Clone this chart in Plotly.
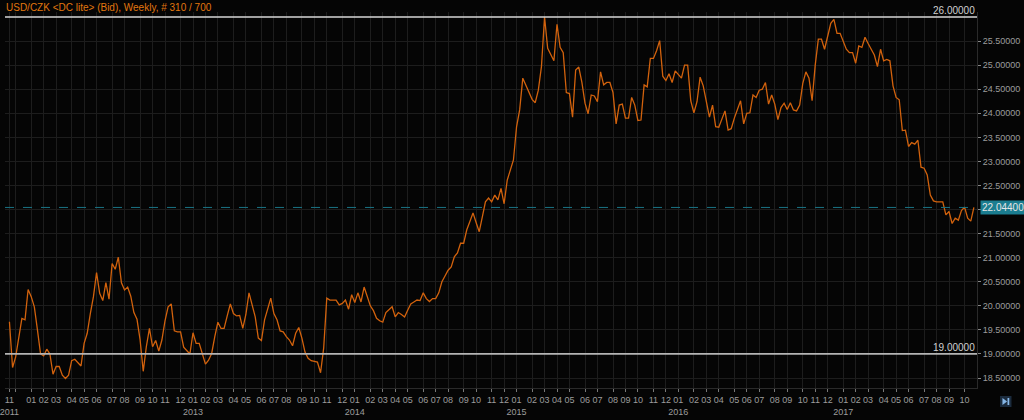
import pandas as pd
import plotly.graph_objects as go

title_text = "USD/CZK &lt;DC lite&gt; (Bid), Weekly, # 310 / 700"

close = [
    19.67, 18.72, 18.94, 19.36, 19.74, 19.71, 20.34, 20.19, 19.98, 19.50,
    19.00, 18.96, 19.10, 19.00, 18.58, 18.74, 18.74, 18.56, 18.49, 18.56,
    18.86, 18.89, 18.83, 18.75, 19.22, 19.43, 19.84, 20.19, 20.69, 20.26,
    20.11, 20.48, 20.14, 20.88, 20.76, 21.01, 20.48, 20.33, 20.39, 20.20,
    19.86, 19.72, 19.29, 18.64, 19.15, 19.53, 19.15, 19.28, 19.06, 19.29,
    19.69, 19.98, 20.04, 19.48, 19.46, 19.46, 19.14, 19.08, 19.00, 19.44,
    19.22, 19.22, 19.00, 18.79, 18.87, 19.01, 19.36, 19.66, 19.53, 19.53,
    19.79, 20.04, 19.84, 19.79, 19.80, 19.53, 19.82, 20.27,
    20.02, 19.77, 19.33, 19.28, 19.71, 19.95, 20.16, 19.84, 19.71, 19.48,
    19.46, 19.36, 19.29, 19.17, 19.43, 19.55, 19.33, 19.04, 18.91, 18.86,
    18.85, 18.83, 18.61, 19.12, 20.16, 20.12, 20.12, 20.12, 20.02, 20.05,
    20.12, 19.93, 20.23, 20.07, 20.27, 20.08, 20.39, 20.20, 20.00, 19.90,
    19.74, 19.69, 19.66, 19.86, 19.93, 19.98, 19.77, 19.86, 19.82, 19.77,
    19.91, 20.04, 20.08, 20.12, 20.11, 20.27, 20.15, 20.09, 20.15, 20.15,
    20.27, 20.50, 20.62, 20.74, 20.81, 21.02, 21.10, 21.30, 21.30, 21.58,
    21.75, 21.93, 21.73, 21.54, 21.85, 22.16, 22.24,
    22.16, 22.30, 22.20, 22.44, 22.12, 22.61, 22.82, 23.03, 23.72, 24.07,
    24.73, 24.59, 24.45, 24.29, 24.22, 24.48, 24.97, 26.00, 25.35, 25.21,
    25.09, 25.85, 25.37, 25.26, 24.43, 24.41, 23.92, 24.90, 24.96, 24.64,
    24.21, 23.99, 24.38, 24.36, 24.24, 24.86, 24.59, 24.64, 24.64, 24.43,
    23.78, 24.17, 24.19, 23.90, 23.90, 24.33, 24.17, 23.85, 23.86, 24.59,
    24.55, 25.14, 25.14, 25.30, 25.51, 24.77, 24.68, 24.82, 24.64, 24.88,
    24.80, 24.73, 25.00, 25.00, 24.26, 24.01, 24.24, 24.75, 24.57, 24.22,
    23.92, 24.17, 23.72, 23.71,
    23.90, 24.05, 23.65, 23.68, 23.90, 24.07, 24.26, 23.78, 24.00, 24.01,
    24.38, 24.33, 24.48, 24.50, 24.64, 24.19, 24.38, 24.19, 23.87, 24.12,
    24.21, 24.08, 24.22, 24.07, 24.05, 24.17, 24.62, 24.86, 24.73, 24.26,
    25.00, 25.54, 25.54, 25.33, 25.61, 25.87, 25.95, 25.66, 25.66, 25.49,
    25.33, 25.26, 25.26, 25.04, 25.40, 25.37, 25.58, 25.45, 25.33, 25.21,
    24.97, 25.33, 25.09, 25.12, 25.09, 24.57, 24.33, 24.28, 23.64, 23.65,
    23.31, 23.39, 23.36, 23.44, 22.88, 22.86, 22.72, 22.30, 22.18, 22.16,
    22.16, 22.16, 21.89, 21.96, 21.71, 21.82, 21.78, 21.98, 22.05, 21.82,
    21.76, 22.044,
]

end_date = "2017-10-27"
ref_levels = [26.0, 19.0]
last_price = 22.044
y_ticks = [18.5, 19.0, 19.5, 20.0, 20.5, 21.0, 21.5, 22.0, 22.5, 23.0, 23.5, 24.0, 24.5, 25.0, 25.5]
year_labels = [2011, 2013, 2014, 2015, 2016, 2017]

dates = pd.date_range(end=end_date, periods=len(close), freq="W-FRI")

# month ticks at the first weekly bar of each month
s = pd.Series(dates)
firsts = s.groupby([s.dt.year, s.dt.month]).first().tolist()
tickvals, ticktext = [], []
for i, d in enumerate(firsts):
    t = d.strftime("%m")
    # skip a label that would collide with the previous one (too close)
    if i > 0 and (d - firsts[i - 1]).days < 21:
        t = ""
    if (i == 0 or d.month == 1) and d.year in year_labels:
        t += "<br>" + str(d.year)
    tickvals.append(d)
    ticktext.append(t)

# y labels; the one under the last-price box is hidden by it
y_text = ["" if abs(v - last_price) < 0.1 else f"{v:.5f}" for v in y_ticks]

FONT = "Liberation Sans, Arial, sans-serif"
GRID = "#1d1d1d"
TXT = "#9c9c9c"

fig = go.Figure()
fig.add_trace(go.Scatter(
    x=dates, y=close, mode="lines",
    line=dict(color="#d2620d", width=1.3),
    hoverinfo="skip", showlegend=False,
))

fig.update_layout(
    width=1024, height=420,
    margin=dict(l=5, r=47, t=12, b=32),
    paper_bgcolor="#050505", plot_bgcolor="#050505",
    font=dict(family=FONT, size=9, color=TXT),
    xaxis=dict(
        range=[dates[0] - pd.Timedelta(days=10), dates[-1] + pd.Timedelta(days=7)],
        tickmode="array", tickvals=tickvals, ticktext=ticktext,
        tickangle=0, automargin=False, ticklabeloverflow="allow",
        showgrid=True, gridcolor=GRID, gridwidth=1,
        ticks="outside", ticklen=3, tickcolor="#777",
        tickfont=dict(size=9, color=TXT, family=FONT),
        showline=True, linecolor="#2a2a2a", zeroline=False,
    ),
    yaxis=dict(
        side="right", range=[18.293, 26.104], automargin=False,
        tickmode="array", tickvals=y_ticks, ticktext=y_text,
        showgrid=True, gridcolor=GRID, gridwidth=1,
        ticks="outside", ticklen=3, tickcolor="#888",
        tickfont=dict(size=9, color=TXT, family=FONT),
        showline=True, linecolor="#2a2a2a", zeroline=False,
    ),
)

# reference horizontal levels
fig.add_shape(type="line", xref="paper", x0=0, x1=1, yref="y", y0=ref_levels[0], y1=ref_levels[0],
              line=dict(color="#d6d6d6", width=1.3))
fig.add_shape(type="line", xref="paper", x0=0, x1=1, yref="y", y0=ref_levels[1], y1=ref_levels[1],
              line=dict(color="#b4b4b4", width=1.8))
for lv in ref_levels:
    fig.add_annotation(xref="paper", x=1, xanchor="right", yref="y", y=lv, yanchor="bottom",
                       text=f"{lv:.5f}", showarrow=False, yshift=-1,
                       font=dict(size=10, color="#d0d0d0", family=FONT))

# last price line and box
fig.add_shape(type="line", xref="paper", x0=0, x1=1, yref="y", y0=last_price, y1=last_price,
              line=dict(color="#1a7384", width=1, dash="dash"))
fig.add_annotation(xref="paper", x=1.0031, xanchor="left", yref="y", y=last_price, yanchor="middle",
                   text=f"{last_price:.5f}", showarrow=False, bgcolor="#1b7d90", borderpad=1,
                   font=dict(size=10, color="#e6e6e6", family=FONT))

# title
fig.add_annotation(xref="paper", x=-0.001, xanchor="left", yref="paper", y=1.013, yanchor="middle",
                   text=title_text, showarrow=False,
                   font=dict(size=10, color="#e2770f", family=FONT))

# small navigation button bottom right
fig.add_shape(type="rect", xref="paper", yref="paper", x0=1.0237, x1=1.0355, y0=-0.0505, y1=-0.0213,
              fillcolor="#1b2b3d", line=dict(width=0))
fig.add_shape(type="path", xref="paper", yref="paper",
              path="M 1.0262 -0.0265 L 1.0262 -0.0452 L 1.0310 -0.0358 Z",
              fillcolor="#86b6e6", line=dict(width=0))
fig.add_shape(type="rect", xref="paper", yref="paper", x0=1.0314, x1=1.0332, y0=-0.0452, y1=-0.0265,
              fillcolor="#86b6e6", line=dict(width=0))

fig.write_html(
    "out.html",
    config={"displayModeBar": False},
    post_script="document.body.style.margin='0';document.body.style.background='#050505';",
)
